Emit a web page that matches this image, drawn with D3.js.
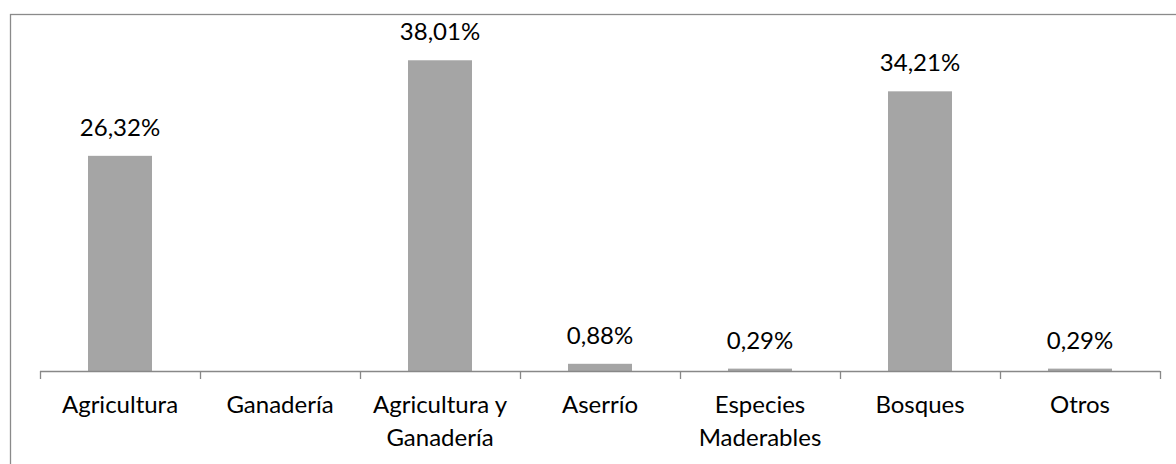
<!DOCTYPE html>
<html>
<head>
<meta charset="utf-8">
<script src="https://cdn.jsdelivr.net/npm/d3@7"></script>
<style>
  html, body { margin: 0; padding: 0; background: #fff; }
  svg { display: block; }
  text { font-family: Lato, "Open Sans", sans-serif; fill: #000; }
</style>
</head>
<body>
<svg id="chart" width="1176" height="464"></svg>
<script>
// Categories (each entry is a list of label lines) and their shares, in percent
const categories = [
  ["Agricultura"],
  ["Ganadería"],
  ["Agricultura y", "Ganadería"],
  ["Aserrío"],
  ["Especies", "Maderables"],
  ["Bosques"],
  ["Otros"]
];
const shares = [26.32, 0, 38.01, 0.88, 0.29, 34.21, 0.29];
const yDomain = [0, 40];

const svg = d3.select("#chart");
const W = 1176, H = 464;
const fontSize = 24;

// Outer chart frame
svg.append("rect")
  .attr("x", 10.5).attr("y", 14.5)
  .attr("width", W).attr("height", H)
  .attr("fill", "none")
  .attr("stroke", "#8a8a8a")
  .attr("stroke-width", 1.3);

const plot = { left: 40, right: 1160, top: 44, bottom: 371 };

const keys = categories.map((c, i) => i);
const x = d3.scaleBand()
  .domain(keys)
  .range([plot.left, plot.right])
  .paddingInner(0.6)
  .paddingOuter(0.3);

// Band boundaries for the axis ticks (one slot per category)
const slot = d3.scaleLinear().domain([0, categories.length]).range([plot.left, plot.right]);

const y = d3.scaleLinear().domain(yDomain).range([plot.bottom, plot.top]);

const fmt = d3.formatLocale({ decimal: ",", thousands: ".", grouping: [3], currency: ["", "€"] }).format(".2f");

// Bars
svg.append("g")
  .selectAll("rect")
  .data(shares)
  .join("rect")
  .attr("x", (d, i) => x(i))
  .attr("width", x.bandwidth())
  .attr("y", d => y(d))
  .attr("height", d => y(0) - y(d))
  .attr("fill", "#a5a5a5");

// Value labels above non-empty bars
svg.append("g")
  .selectAll("text")
  .data(shares.map((v, i) => ({ v, i })).filter(d => d.v > 0))
  .join("text")
  .attr("x", d => x(d.i) + x.bandwidth() / 2)
  .attr("y", d => y(d.v) - 20)
  .attr("text-anchor", "middle")
  .attr("font-size", fontSize)
  .text(d => fmt(d.v) + "%");

// Category axis with ticks at slot boundaries
const axis = svg.append("g").attr("stroke", "#888888").attr("stroke-width", 1.3);
axis.append("line")
  .attr("x1", plot.left).attr("x2", plot.right)
  .attr("y1", plot.bottom + 0.5).attr("y2", plot.bottom + 0.5);
axis.selectAll("line.tick")
  .data(d3.range(categories.length + 1))
  .join("line")
  .attr("class", "tick")
  .attr("x1", d => Math.round(slot(d)) + 0.5)
  .attr("x2", d => Math.round(slot(d)) + 0.5)
  .attr("y1", plot.bottom)
  .attr("y2", plot.bottom + 8);

// Category labels, possibly on two lines
const labels = svg.append("g")
  .selectAll("text")
  .data(categories)
  .join("text")
  .attr("x", (d, i) => x(i) + x.bandwidth() / 2)
  .attr("y", 413)
  .attr("text-anchor", "middle")
  .attr("font-size", fontSize);
labels.selectAll("tspan")
  .data(d => d)
  .join("tspan")
  .attr("x", function () { return this.parentNode.getAttribute("x"); })
  .attr("dy", (d, j) => j === 0 ? 0 : 33)
  .text(d => d);
</script>
</body>
</html>
